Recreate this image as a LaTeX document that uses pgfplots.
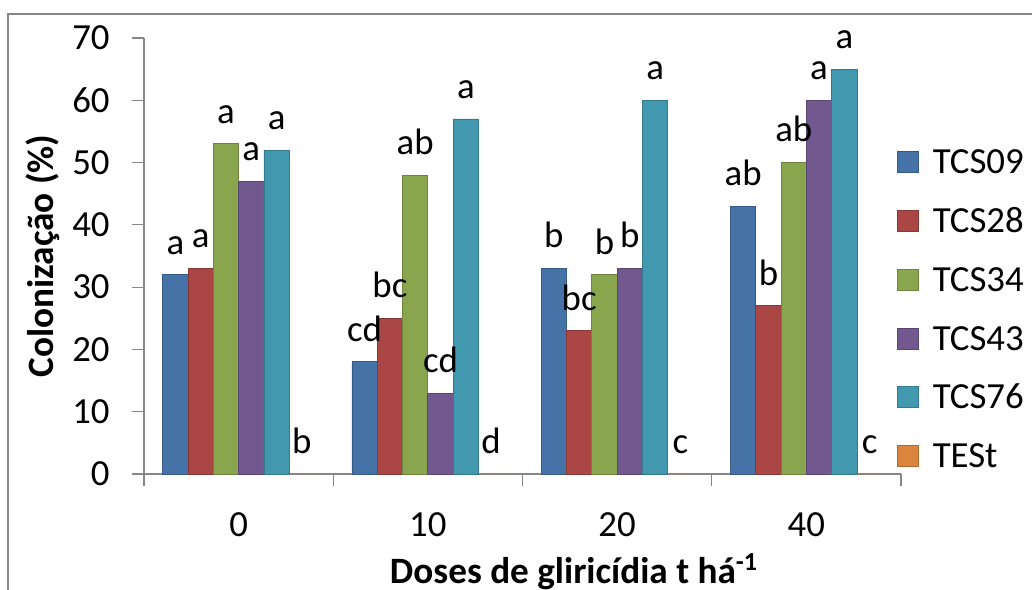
\documentclass[border=0pt]{standalone}
\usepackage{fontspec}
\setmainfont{Carlito}
\usepackage{pgfplots}
\pgfplotsset{compat=1.18}
\definecolor{c1}{HTML}{4572A7}
\definecolor{c2}{HTML}{AA4643}
\definecolor{c3}{HTML}{89A54E}
\definecolor{c4}{HTML}{71588F}
\definecolor{c5}{HTML}{4198AF}
\definecolor{c6}{HTML}{DB843D}
\definecolor{axgray}{HTML}{868686}
\newcommand{\F}{\fontsize{18.4}{22}\selectfont}
\newcommand{\FB}{\fontsize{18.6}{22}\selectfont\bfseries}
\begin{document}
\begin{tikzpicture}
\useasboundingbox (0,0) rectangle (516pt,294.5pt);
\clip (0,0) rectangle (516pt,294.5pt);
\draw[axgray, line width=1pt] (4pt,-5pt) -- (4pt,287.5pt) -- (530pt,287.5pt);
\begin{axis}[
 at={(72pt,57.5pt)}, anchor=south west,
 width=378.5pt, height=218pt, scale only axis,
 xmin=-0.5, xmax=3.5, ymin=0, ymax=70,
 ybar=0pt, bar width=12.65pt,
 axis x line*=bottom, axis y line*=left,
 axis line style={axgray, line width=0.6pt},
 ytick={0,10,...,70},
 xtick={-0.5,0.5,1.5,2.5,3.5},
 x tick label as interval,
 xticklabels={0,10,20,40},
 tick style={axgray, line width=0.6pt},
 tick align=outside,
 major tick length=6pt,
 tick label style={font=\F, /pgf/number format/assume math mode=true},
 yticklabel style={inner sep=0pt, anchor=east, xshift=-11pt},
 xticklabel style={inner sep=0pt, anchor=north, yshift=-13pt},
 nodes near coords, point meta=explicit symbolic,
 every node near coord/.append style={font=\F, inner sep=0pt, anchor=south, yshift=10pt, text=black},
 legend style={at={(0.9947,0.753)}, anchor=north west, draw=none, fill=none,
   inner sep=0pt, outer sep=0pt, font=\F, row sep=11.9pt, column sep=5pt,
   cells={anchor=base west, inner sep=0pt, text height=12pt, text depth=0pt}},
 legend image code/.code={\draw[#1] (0pt,0.6pt) rectangle (10.5pt,11.1pt);},
]
\addplot[fill=c1, draw=c1!80!black, line width=0.4pt] coordinates {(0,32) [a] (1,18) [cd] (2,33) [b] (3,43) [ab]};
\addlegendentry{TCS09}
\addplot[fill=c2, draw=c2!80!black, line width=0.4pt] coordinates {(0,33) [a] (1,25) [bc] (2,23) [bc] (3,27) [b]};
\addlegendentry{TCS28}
\addplot[fill=c3, draw=c3!80!black, line width=0.4pt] coordinates {(0,53) [a] (1,48) [ab] (2,32) [b] (3,50) [ab]};
\addlegendentry{TCS34}
\addplot[fill=c4, draw=c4!80!black, line width=0.4pt] coordinates {(0,47) [a] (1,13) [cd] (2,33) [b] (3,60) [a]};
\addlegendentry{TCS43}
\addplot[fill=c5, draw=c5!80!black, line width=0.4pt] coordinates {(0,52) [a] (1,57) [a] (2,60) [a] (3,65) [a]};
\addlegendentry{TCS76}
\addplot[fill=c6, draw=none,
  legend image code/.code={\draw[fill=c6, draw=c6!80!black, line width=0.4pt] (0pt,0.6pt) rectangle (10.5pt,11.1pt);}]
  coordinates {(0,0) [b] (1,0) [d] (2,0) [c] (3,0) [c]};
\addlegendentry{TESt}
\end{axis}
\node[font=\FB, rotate=90, anchor=base, inner sep=0pt] at (26.5pt,166.5pt) {Colonização (\%)};
\node[font=\FB, anchor=base, inner sep=0pt] at (287pt,3pt) {Doses de gliricídia t há\textsuperscript{-1}};
\end{tikzpicture}
\end{document}
